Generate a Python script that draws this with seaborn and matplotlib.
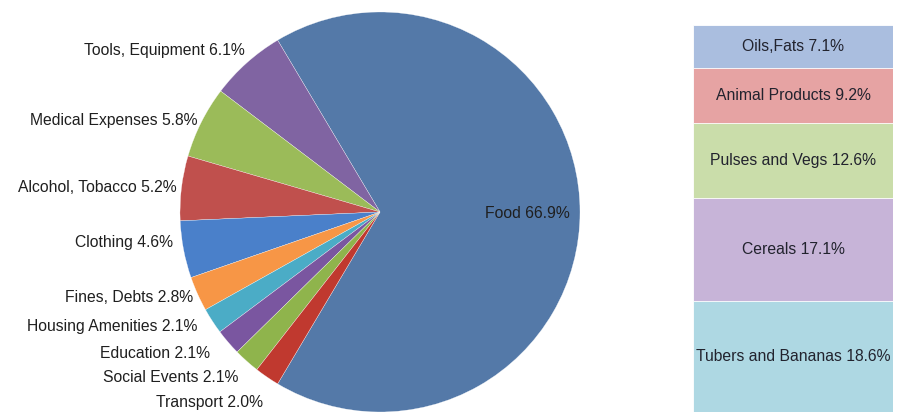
import numpy as np
import pandas as pd
import matplotlib
matplotlib.use("Agg")
import matplotlib.pyplot as plt
import seaborn as sns

# ---- data ----
pie_categories = ["Food", "Tools, Equipment", "Medical Expenses", "Alcohol, Tobacco",
                  "Clothing", "Fines, Debts", "Housing Amenities", "Education",
                  "Social Events", "Transport"]
pie_values = [66.9, 6.1, 5.8, 5.2, 4.6, 2.8, 2.1, 2.1, 2.1, 2.0]

food_categories = ["Tubers and Bananas", "Cereals", "Pulses and Vegs",
                   "Animal Products", "Oils,Fats"]
food_values = [18.6, 17.1, 12.6, 9.2, 7.1]

# ---- style ----
sns.set_theme(style="white")
plt.rcParams["font.family"] = ["Liberation Sans", "DejaVu Sans"]

pie_colors = ["#5479A8", "#8064A2", "#9BBB59", "#C0504D", "#4A80CA",
              "#F79646", "#4BACC6", "#7A56A0", "#8FB44C", "#C0392F"]
bar_colors = ["#AED8E3", "#C7B4D8", "#CADDAA", "#E6A3A3", "#AABEDF"]
text_color = "#1f1f1f"
FS = 11.3

fig = plt.figure(figsize=(8.97, 4.12), dpi=100)

# ---- pie ----
W, H = 897, 412
cx, cy, R = 380, 212, 200
ax = fig.add_axes([(cx - R) / W, (H - cy - R) / H, 2 * R / W, 2 * R / H])
total = sum(pie_values)
start = -pie_values[0] / total * 360 / 2
wedges, _ = ax.pie(pie_values, colors=pie_colors, startangle=start,
                   counterclock=True,
                   wedgeprops=dict(edgecolor="white", linewidth=0.2))
ax.set_xlim(-1, 1)
ax.set_ylim(-1, 1)
ax.set_aspect("auto")

# label anchor positions (pixel coords in the figure)
label_px = [(527, 213, "center"), (245, 50, "right"), (197, 121, "right"),
            (177, 188, "right"), (173, 243, "right"), (193, 297, "right"),
            (197, 326, "right"), (210, 353, "right"), (238, 377, "right"),
            (263, 403, "right")]
for name, val, (px, py, ha) in zip(pie_categories, pie_values, label_px):
    fig.text(px / W, 1 - py / H, f"{name} {val:.1f}%", ha=ha, va="center",
             fontsize=FS, color=text_color)

# ---- stacked food bar ----
bx0, bx1, by0 = 693, 893, 25
ax2 = fig.add_axes([bx0 / W, 0, (bx1 - bx0) / W, (H - by0) / H])
cum = np.cumsum(food_values)
for i in range(len(food_values) - 1, -1, -1):
    df = pd.DataFrame({"group": ["Food"], "value": [cum[i]]})
    sns.barplot(data=df, x="group", y="value", color=bar_colors[i],
                saturation=1, width=1.0, ax=ax2,
                edgecolor="white", linewidth=0.6)
ax2.set_xlim(-0.5, 0.5)
ax2.set_ylim(0, cum[-1])
ax2.axis("off")
for i, (name, val) in enumerate(zip(food_categories, food_values)):
    mid = cum[i] - val / 2
    ax2.text(0, mid, f"{name} {val:.1f}%", ha="center", va="center",
             fontsize=FS, color="#22232e", clip_on=False)

fig.savefig("out.png", dpi=100)
